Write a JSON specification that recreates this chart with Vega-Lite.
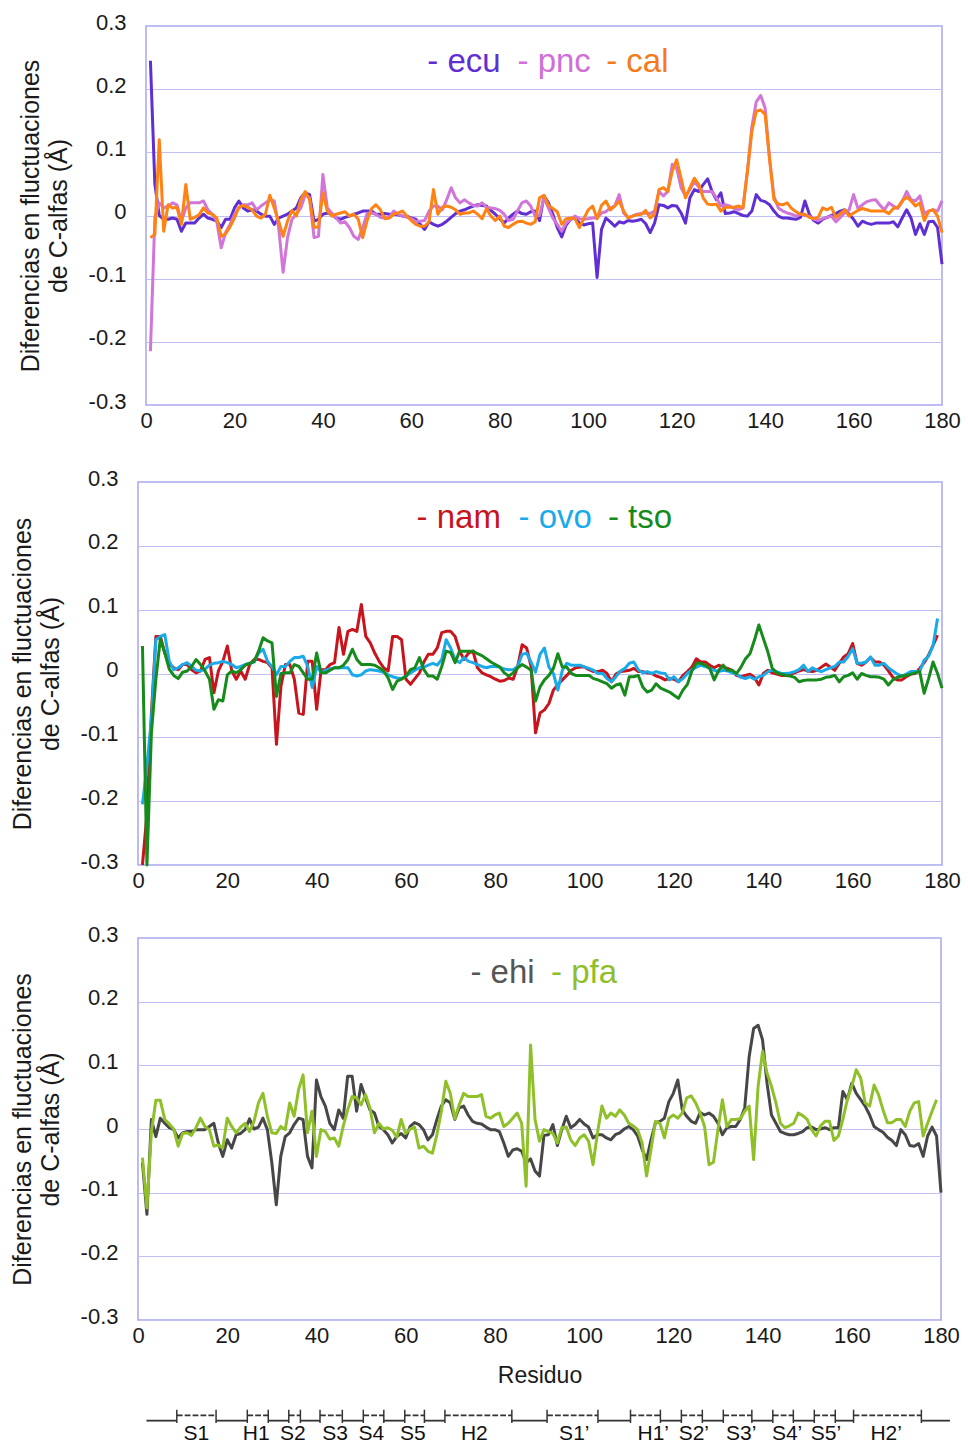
{
"$schema": "https://vega.github.io/schema/vega-lite/v6.json",
"background": "white",
"padding": {"left": 9, "top": 10, "right": 5, "bottom": 5},
"config": {
  "font": "Liberation Sans",
  "view": {"stroke": "#a7a7ee", "strokeWidth": 1.5},
  "axis": {"labelFont": "Liberation Sans", "titleFont": "Liberation Sans", "labelColor": "#1a1a1a", "titleColor": "#1a1a1a", "titleFontWeight": "normal", "domain": false, "ticks": false, "tickSize": 0},
  "axisX": {"grid": false, "labelFontSize": 22, "labelPadding": 5, "labelFlush": false, "titleFontSize": 23, "titlePadding": 18},
  "axisY": {"grid": true, "gridColor": "#c0c0f4", "gridWidth": 1, "labelFontSize": 22, "labelPadding": 20, "labelOffset": -4, "titleFontSize": 25, "titlePadding": 17, "titleLineHeight": 28}
},
"datasets": {
"p1": [
{"r":1,"ecu":0.245,"pnc":-0.215,"cal":-0.035},{"r":2,"ecu":0.05,"pnc":-0.004,"cal":-0.03},{"r":3,"ecu":0.0,"pnc":0.02,"cal":0.12},{"r":4,"ecu":-0.006,"pnc":0.012,"cal":-0.025},{"r":5,"ecu":-0.006,"pnc":0.015,"cal":0.017},{"r":6,"ecu":-0.004,"pnc":0.02,"cal":0.012},{"r":7,"ecu":-0.006,"pnc":0.017,"cal":0.013},{"r":8,"ecu":-0.025,"pnc":-0.009,"cal":-0.014},{"r":9,"ecu":-0.012,"pnc":0.012,"cal":0.049},{"r":10,"ecu":-0.012,"pnc":0.02,"cal":-0.006},
{"r":11,"ecu":-0.012,"pnc":0.02,"cal":-0.003},{"r":12,"ecu":-0.004,"pnc":0.02,"cal":0.001},{"r":13,"ecu":0.002,"pnc":0.023,"cal":0.012},{"r":14,"ecu":-0.004,"pnc":0.009,"cal":0.004},{"r":15,"ecu":-0.006,"pnc":0.002,"cal":0.002},{"r":16,"ecu":-0.009,"pnc":-0.009,"cal":-0.004},{"r":17,"ecu":-0.019,"pnc":-0.051,"cal":-0.033},{"r":18,"ecu":-0.006,"pnc":-0.027,"cal":-0.029},{"r":19,"ecu":-0.006,"pnc":-0.014,"cal":-0.018},{"r":20,"ecu":0.012,"pnc":0.002,"cal":-0.004},
{"r":21,"ecu":0.023,"pnc":0.012,"cal":0.013},{"r":22,"ecu":0.012,"pnc":0.017,"cal":0.016},{"r":23,"ecu":0.007,"pnc":0.017,"cal":0.013},{"r":24,"ecu":0.009,"pnc":0.02,"cal":0.009},{"r":25,"ecu":0.007,"pnc":0.009,"cal":-0.001},{"r":26,"ecu":0.002,"pnc":0.015,"cal":-0.004},{"r":27,"ecu":-0.001,"pnc":0.02,"cal":0.002},{"r":28,"ecu":-0.001,"pnc":0.025,"cal":0.032},{"r":29,"ecu":-0.014,"pnc":0.023,"cal":0.012},{"r":30,"ecu":-0.004,"pnc":-0.019,"cal":-0.009},
{"r":31,"ecu":-0.001,"pnc":-0.09,"cal":-0.033},{"r":32,"ecu":0.002,"pnc":-0.035,"cal":-0.009},{"r":33,"ecu":0.007,"pnc":-0.006,"cal":0.008},{"r":34,"ecu":0.012,"pnc":0.002,"cal":-0.001},{"r":35,"ecu":0.028,"pnc":0.012,"cal":0.025},{"r":36,"ecu":0.036,"pnc":0.033,"cal":0.038},{"r":37,"ecu":0.033,"pnc":0.028,"cal":0.025},{"r":38,"ecu":-0.009,"pnc":-0.035,"cal":-0.019},{"r":39,"ecu":-0.006,"pnc":-0.033,"cal":-0.018},{"r":40,"ecu":0.002,"pnc":0.065,"cal":0.036},
{"r":41,"ecu":0.004,"pnc":0.012,"cal":0.007},{"r":42,"ecu":0.002,"pnc":0.004,"cal":-0.001},{"r":43,"ecu":-0.004,"pnc":-0.004,"cal":0.002},{"r":44,"ecu":-0.006,"pnc":-0.012,"cal":0.004},{"r":45,"ecu":-0.003,"pnc":-0.01,"cal":0.006},{"r":46,"ecu":-0.001,"pnc":-0.019,"cal":-0.001},{"r":47,"ecu":0.002,"pnc":-0.033,"cal":0.002},{"r":48,"ecu":0.004,"pnc":-0.038,"cal":-0.006},{"r":49,"ecu":0.007,"pnc":-0.019,"cal":-0.035},{"r":50,"ecu":0.007,"pnc":0.003,"cal":-0.008},
{"r":51,"ecu":0.007,"pnc":0.004,"cal":0.011},{"r":52,"ecu":0.002,"pnc":0.002,"cal":0.017},{"r":53,"ecu":0.002,"pnc":-0.003,"cal":0.009},{"r":54,"ecu":0.003,"pnc":-0.004,"cal":-0.005},{"r":55,"ecu":0.002,"pnc":-0.003,"cal":-0.004},{"r":56,"ecu":0.002,"pnc":0.007,"cal":0.002},{"r":57,"ecu":0.001,"pnc":0.002,"cal":0.004},{"r":58,"ecu":-0.001,"pnc":-0.001,"cal":0.007},{"r":59,"ecu":-0.001,"pnc":-0.003,"cal":-0.001},{"r":60,"ecu":-0.004,"pnc":-0.005,"cal":-0.008},
{"r":61,"ecu":-0.006,"pnc":-0.009,"cal":-0.014},{"r":62,"ecu":-0.014,"pnc":-0.009,"cal":-0.017},{"r":63,"ecu":-0.022,"pnc":-0.008,"cal":-0.017},{"r":64,"ecu":-0.01,"pnc":0.007,"cal":-0.01},{"r":65,"ecu":-0.014,"pnc":0.015,"cal":0.041},{"r":66,"ecu":-0.017,"pnc":0.015,"cal":0.002},{"r":67,"ecu":-0.014,"pnc":0.009,"cal":0.013},{"r":68,"ecu":-0.009,"pnc":0.025,"cal":0.015},{"r":69,"ecu":-0.003,"pnc":0.044,"cal":0.013},{"r":70,"ecu":0.003,"pnc":0.028,"cal":0.009},
{"r":71,"ecu":0.007,"pnc":0.02,"cal":0.002},{"r":72,"ecu":0.009,"pnc":0.025,"cal":0.004},{"r":73,"ecu":0.012,"pnc":0.02,"cal":0.004},{"r":74,"ecu":0.015,"pnc":0.016,"cal":0.007},{"r":75,"ecu":0.017,"pnc":0.015,"cal":0.002},{"r":76,"ecu":0.016,"pnc":0.02,"cal":-0.005},{"r":77,"ecu":0.015,"pnc":0.013,"cal":0.011},{"r":78,"ecu":0.008,"pnc":0.012,"cal":-0.001},{"r":79,"ecu":0.002,"pnc":0.011,"cal":-0.008},{"r":80,"ecu":-0.005,"pnc":0.008,"cal":-0.001},
{"r":81,"ecu":-0.012,"pnc":0.002,"cal":-0.017},{"r":82,"ecu":-0.004,"pnc":-0.008,"cal":-0.019},{"r":83,"ecu":0.002,"pnc":-0.006,"cal":-0.014},{"r":84,"ecu":0.007,"pnc":0.007,"cal":-0.01},{"r":85,"ecu":0.003,"pnc":0.02,"cal":-0.009},{"r":86,"ecu":0.002,"pnc":0.023,"cal":-0.012},{"r":87,"ecu":0.006,"pnc":0.015,"cal":-0.014},{"r":88,"ecu":0.007,"pnc":-0.001,"cal":-0.01},{"r":89,"ecu":-0.008,"pnc":0.0,"cal":0.028},{"r":90,"ecu":0.031,"pnc":0.028,"cal":0.032},
{"r":91,"ecu":0.02,"pnc":0.012,"cal":0.016},{"r":92,"ecu":0.002,"pnc":-0.004,"cal":0.011},{"r":93,"ecu":-0.019,"pnc":-0.014,"cal":0.006},{"r":94,"ecu":-0.034,"pnc":-0.025,"cal":-0.014},{"r":95,"ecu":-0.015,"pnc":-0.012,"cal":-0.005},{"r":96,"ecu":-0.006,"pnc":-0.006,"cal":-0.004},{"r":97,"ecu":-0.004,"pnc":-0.001,"cal":-0.005},{"r":98,"ecu":-0.012,"pnc":-0.005,"cal":-0.019},{"r":99,"ecu":-0.015,"pnc":-0.006,"cal":-0.005},{"r":100,"ecu":-0.013,"pnc":-0.005,"cal":0.009},
{"r":101,"ecu":-0.012,"pnc":-0.004,"cal":0.015},{"r":102,"ecu":-0.098,"pnc":-0.004,"cal":-0.005},{"r":103,"ecu":-0.022,"pnc":0.004,"cal":0.016},{"r":104,"ecu":-0.004,"pnc":0.006,"cal":0.023},{"r":105,"ecu":-0.01,"pnc":0.012,"cal":0.009},{"r":106,"ecu":-0.017,"pnc":0.015,"cal":0.015},{"r":107,"ecu":-0.01,"pnc":0.033,"cal":0.023},{"r":108,"ecu":-0.012,"pnc":0.004,"cal":0.007},{"r":109,"ecu":-0.008,"pnc":-0.003,"cal":-0.004},{"r":110,"ecu":-0.009,"pnc":-0.001,"cal":-0.001},
{"r":111,"ecu":-0.008,"pnc":0.002,"cal":0.001},{"r":112,"ecu":-0.006,"pnc":0.003,"cal":0.002},{"r":113,"ecu":-0.013,"pnc":0.004,"cal":0.008},{"r":114,"ecu":-0.027,"pnc":0.003,"cal":-0.004},{"r":115,"ecu":-0.012,"pnc":0.007,"cal":0.002},{"r":116,"ecu":0.017,"pnc":0.038,"cal":0.041},{"r":117,"ecu":0.016,"pnc":0.031,"cal":0.044},{"r":118,"ecu":0.012,"pnc":0.038,"cal":0.038},{"r":119,"ecu":0.016,"pnc":0.081,"cal":0.07},{"r":120,"ecu":0.015,"pnc":0.075,"cal":0.088},
{"r":121,"ecu":0.004,"pnc":0.044,"cal":0.059},{"r":122,"ecu":-0.012,"pnc":0.031,"cal":0.028},{"r":123,"ecu":0.028,"pnc":0.041,"cal":0.044},{"r":124,"ecu":0.041,"pnc":0.054,"cal":0.059},{"r":125,"ecu":0.038,"pnc":0.045,"cal":0.049},{"r":126,"ecu":0.049,"pnc":0.038,"cal":0.028},{"r":127,"ecu":0.058,"pnc":0.038,"cal":0.018},{"r":128,"ecu":0.038,"pnc":0.038,"cal":0.017},{"r":129,"ecu":0.025,"pnc":0.028,"cal":0.018},{"r":130,"ecu":0.036,"pnc":0.015,"cal":0.007},
{"r":131,"ecu":0.003,"pnc":0.017,"cal":0.013},{"r":132,"ecu":0.004,"pnc":0.015,"cal":0.013},{"r":133,"ecu":0.006,"pnc":0.011,"cal":0.013},{"r":134,"ecu":0.003,"pnc":0.009,"cal":0.015},{"r":135,"ecu":0.0,"pnc":0.012,"cal":0.012},{"r":136,"ecu":-0.001,"pnc":0.07,"cal":0.07},{"r":137,"ecu":0.007,"pnc":0.14,"cal":0.133},{"r":138,"ecu":0.033,"pnc":0.18,"cal":0.165},{"r":139,"ecu":0.024,"pnc":0.19,"cal":0.167},{"r":140,"ecu":0.022,"pnc":0.17,"cal":0.16},
{"r":141,"ecu":0.017,"pnc":0.09,"cal":0.09},{"r":142,"ecu":0.007,"pnc":0.03,"cal":0.025},{"r":143,"ecu":-0.001,"pnc":0.012,"cal":0.018},{"r":144,"ecu":-0.004,"pnc":0.007,"cal":0.017},{"r":145,"ecu":-0.004,"pnc":0.004,"cal":0.02},{"r":146,"ecu":-0.005,"pnc":0.002,"cal":0.011},{"r":147,"ecu":-0.006,"pnc":-0.001,"cal":0.006},{"r":148,"ecu":-0.003,"pnc":0.002,"cal":0.002},{"r":149,"ecu":0.023,"pnc":0.0,"cal":0.002},{"r":150,"ecu":0.002,"pnc":-0.001,"cal":-0.003},
{"r":151,"ecu":-0.008,"pnc":-0.006,"cal":-0.005},{"r":152,"ecu":-0.012,"pnc":-0.008,"cal":-0.003},{"r":153,"ecu":-0.006,"pnc":-0.005,"cal":0.012},{"r":154,"ecu":-0.003,"pnc":-0.003,"cal":0.009},{"r":155,"ecu":0.0,"pnc":-0.001,"cal":0.013},{"r":156,"ecu":0.003,"pnc":-0.01,"cal":-0.003},{"r":157,"ecu":0.007,"pnc":-0.003,"cal":0.003},{"r":158,"ecu":0.009,"pnc":0.004,"cal":0.009},{"r":159,"ecu":0.002,"pnc":0.009,"cal":-0.001},{"r":160,"ecu":-0.006,"pnc":0.033,"cal":0.004},
{"r":161,"ecu":-0.017,"pnc":0.011,"cal":0.008},{"r":162,"ecu":-0.009,"pnc":0.017,"cal":0.011},{"r":163,"ecu":-0.012,"pnc":0.022,"cal":0.009},{"r":164,"ecu":-0.014,"pnc":0.024,"cal":0.007},{"r":165,"ecu":-0.012,"pnc":0.025,"cal":0.007},{"r":166,"ecu":-0.012,"pnc":0.016,"cal":0.007},{"r":167,"ecu":-0.012,"pnc":0.009,"cal":0.007},{"r":168,"ecu":-0.012,"pnc":0.02,"cal":0.003},{"r":169,"ecu":-0.01,"pnc":0.015,"cal":0.011},{"r":170,"ecu":-0.018,"pnc":0.011,"cal":0.013},
{"r":171,"ecu":-0.004,"pnc":0.022,"cal":0.023},{"r":172,"ecu":0.009,"pnc":0.038,"cal":0.029},{"r":173,"ecu":-0.004,"pnc":0.025,"cal":0.023},{"r":174,"ecu":-0.03,"pnc":0.023,"cal":0.015},{"r":175,"ecu":-0.013,"pnc":0.031,"cal":0.02},{"r":176,"ecu":-0.03,"pnc":0.003,"cal":-0.008},{"r":177,"ecu":-0.01,"pnc":0.007,"cal":0.007},{"r":178,"ecu":-0.009,"pnc":0.009,"cal":0.009},{"r":179,"ecu":-0.019,"pnc":0.007,"cal":-0.001},{"r":180,"ecu":-0.077,"pnc":0.023,"cal":-0.027}
],
"p2": [
{"r":1,"nam":-0.3,"ovo":-0.205,"tso":0.043},{"r":2,"nam":-0.22,"ovo":-0.145,"tso":-0.3},{"r":3,"nam":-0.062,"ovo":-0.072,"tso":-0.093},{"r":4,"nam":0.058,"ovo":0.053,"tso":-0.009},{"r":5,"nam":0.058,"ovo":0.058,"tso":0.054},{"r":6,"nam":0.032,"ovo":0.061,"tso":0.032},{"r":7,"nam":0.014,"ovo":0.019,"tso":0.007},{"r":8,"nam":0.009,"ovo":0.006,"tso":-0.003},{"r":9,"nam":0.006,"ovo":0.009,"tso":-0.008},{"r":10,"nam":0.014,"ovo":0.014,"tso":0.002},
{"r":11,"nam":0.014,"ovo":0.017,"tso":0.004},{"r":12,"nam":0.006,"ovo":0.011,"tso":0.011},{"r":13,"nam":0.001,"ovo":0.005,"tso":0.022},{"r":14,"nam":0.004,"ovo":0.004,"tso":0.014},{"r":15,"nam":0.022,"ovo":0.007,"tso":0.004},{"r":16,"nam":0.025,"ovo":0.013,"tso":-0.009},{"r":17,"nam":-0.03,"ovo":0.016,"tso":-0.056},{"r":18,"nam":0.004,"ovo":0.017,"tso":-0.041},{"r":19,"nam":0.019,"ovo":0.019,"tso":-0.043},{"r":20,"nam":0.043,"ovo":0.017,"tso":-0.002},
{"r":21,"nam":0.004,"ovo":0.014,"tso":0.004},{"r":22,"nam":-0.009,"ovo":0.009,"tso":0.001},{"r":23,"nam":0.004,"ovo":0.011,"tso":0.006},{"r":24,"nam":-0.009,"ovo":0.014,"tso":0.013},{"r":25,"nam":0.014,"ovo":0.016,"tso":0.016},{"r":26,"nam":0.022,"ovo":0.018,"tso":0.019},{"r":27,"nam":0.022,"ovo":0.032,"tso":0.035},{"r":28,"nam":0.019,"ovo":0.038,"tso":0.056},{"r":29,"nam":0.017,"ovo":0.019,"tso":0.051},{"r":30,"nam":0.009,"ovo":0.011,"tso":0.048},
{"r":31,"nam":-0.111,"ovo":-0.002,"tso":-0.036},{"r":32,"nam":-0.02,"ovo":0.011,"tso":0.0},{"r":33,"nam":0.014,"ovo":0.011,"tso":0.001},{"r":34,"nam":0.014,"ovo":0.019,"tso":0.001},{"r":35,"nam":-0.009,"ovo":0.025,"tso":0.014},{"r":36,"nam":-0.062,"ovo":0.025,"tso":0.011},{"r":37,"nam":-0.064,"ovo":0.027,"tso":0.001},{"r":38,"nam":0.019,"ovo":0.011,"tso":-0.009},{"r":39,"nam":0.019,"ovo":-0.022,"tso":-0.009},{"r":40,"nam":-0.056,"ovo":0.011,"tso":0.032},
{"r":41,"nam":0.006,"ovo":0.002,"tso":0.001},{"r":42,"nam":0.006,"ovo":0.005,"tso":0.001},{"r":43,"nam":0.014,"ovo":0.007,"tso":0.005},{"r":44,"nam":0.017,"ovo":0.009,"tso":0.009},{"r":45,"nam":0.072,"ovo":0.009,"tso":0.009},{"r":46,"nam":0.03,"ovo":0.009,"tso":0.013},{"r":47,"nam":0.066,"ovo":0.009,"tso":0.022},{"r":48,"nam":0.069,"ovo":-0.002,"tso":0.038},{"r":49,"nam":0.066,"ovo":-0.004,"tso":0.022},{"r":50,"nam":0.108,"ovo":-0.002,"tso":0.014},
{"r":51,"nam":0.058,"ovo":0.004,"tso":0.014},{"r":52,"nam":0.048,"ovo":0.006,"tso":0.014},{"r":53,"nam":0.032,"ovo":0.005,"tso":0.013},{"r":54,"nam":0.019,"ovo":0.004,"tso":0.009},{"r":55,"nam":0.009,"ovo":0.002,"tso":0.004},{"r":56,"nam":0.004,"ovo":-0.002,"tso":-0.007},{"r":57,"nam":0.058,"ovo":-0.005,"tso":-0.025},{"r":58,"nam":0.058,"ovo":-0.007,"tso":-0.012},{"r":59,"nam":0.053,"ovo":-0.008,"tso":-0.009},{"r":60,"nam":-0.009,"ovo":-0.004,"tso":-0.004},
{"r":61,"nam":-0.017,"ovo":0.001,"tso":0.006},{"r":62,"nam":-0.008,"ovo":0.005,"tso":0.009},{"r":63,"nam":0.001,"ovo":0.009,"tso":0.025},{"r":64,"nam":0.018,"ovo":0.01,"tso":0.006},{"r":65,"nam":0.03,"ovo":0.013,"tso":-0.004},{"r":66,"nam":0.03,"ovo":0.016,"tso":-0.004},{"r":67,"nam":0.04,"ovo":0.013,"tso":-0.009},{"r":68,"nam":0.064,"ovo":0.022,"tso":0.011},{"r":69,"nam":0.066,"ovo":0.053,"tso":0.035},{"r":70,"nam":0.066,"ovo":0.04,"tso":0.033},
{"r":71,"nam":0.058,"ovo":0.022,"tso":0.017},{"r":72,"nam":0.035,"ovo":0.017,"tso":0.035},{"r":73,"nam":0.022,"ovo":0.025,"tso":0.035},{"r":74,"nam":0.032,"ovo":0.019,"tso":0.035},{"r":75,"nam":0.035,"ovo":0.017,"tso":0.035},{"r":76,"nam":0.009,"ovo":0.014,"tso":0.031},{"r":77,"nam":0.001,"ovo":0.011,"tso":0.028},{"r":78,"nam":-0.002,"ovo":0.009,"tso":0.023},{"r":79,"nam":-0.005,"ovo":0.011,"tso":0.018},{"r":80,"nam":-0.009,"ovo":0.011,"tso":0.014},
{"r":81,"nam":-0.012,"ovo":0.01,"tso":0.01},{"r":82,"nam":-0.011,"ovo":0.007,"tso":0.001},{"r":83,"nam":-0.007,"ovo":0.006,"tso":-0.004},{"r":84,"nam":-0.009,"ovo":0.006,"tso":0.001},{"r":85,"nam":0.011,"ovo":0.011,"tso":0.009},{"r":86,"nam":0.045,"ovo":0.03,"tso":0.014},{"r":87,"nam":0.04,"ovo":0.032,"tso":0.01},{"r":88,"nam":0.011,"ovo":0.018,"tso":0.005},{"r":89,"nam":-0.093,"ovo":0.002,"tso":-0.043},{"r":90,"nam":-0.062,"ovo":0.03,"tso":-0.021},
{"r":91,"nam":-0.057,"ovo":0.04,"tso":-0.01},{"r":92,"nam":-0.047,"ovo":0.01,"tso":-0.003},{"r":93,"nam":-0.026,"ovo":0.0,"tso":0.008},{"r":94,"nam":-0.017,"ovo":-0.026,"tso":0.031},{"r":95,"nam":-0.01,"ovo":0.005,"tso":0.01},{"r":96,"nam":-0.003,"ovo":0.016,"tso":0.01},{"r":97,"nam":0.005,"ovo":0.013,"tso":0.0},{"r":98,"nam":0.009,"ovo":0.013,"tso":-0.003},{"r":99,"nam":0.01,"ovo":0.013,"tso":-0.003},{"r":100,"nam":0.01,"ovo":0.01,"tso":-0.003},
{"r":101,"nam":0.006,"ovo":0.008,"tso":-0.003},{"r":102,"nam":0.003,"ovo":0.005,"tso":-0.008},{"r":103,"nam":0.003,"ovo":0.0,"tso":-0.01},{"r":104,"nam":0.005,"ovo":0.0,"tso":-0.013},{"r":105,"nam":0.0,"ovo":-0.008,"tso":-0.016},{"r":106,"nam":-0.013,"ovo":-0.013,"tso":-0.023},{"r":107,"nam":-0.001,"ovo":-0.005,"tso":-0.018},{"r":108,"nam":0.003,"ovo":0.004,"tso":-0.016},{"r":109,"nam":0.004,"ovo":0.008,"tso":-0.034},{"r":110,"nam":0.005,"ovo":0.016,"tso":-0.005},
{"r":111,"nam":0.008,"ovo":0.018,"tso":-0.005},{"r":112,"nam":0.003,"ovo":0.006,"tso":-0.003},{"r":113,"nam":0.003,"ovo":0.001,"tso":-0.021},{"r":114,"nam":0.001,"ovo":0.003,"tso":-0.029},{"r":115,"nam":0.0,"ovo":0.0,"tso":-0.026},{"r":116,"nam":-0.004,"ovo":0.003,"tso":-0.016},{"r":117,"nam":-0.006,"ovo":0.001,"tso":-0.023},{"r":118,"nam":-0.01,"ovo":0.0,"tso":-0.026},{"r":119,"nam":-0.008,"ovo":-0.01,"tso":-0.029},{"r":120,"nam":-0.009,"ovo":-0.005,"tso":-0.034},
{"r":121,"nam":-0.013,"ovo":-0.013,"tso":-0.039},{"r":122,"nam":-0.003,"ovo":-0.008,"tso":-0.026},{"r":123,"nam":0.003,"ovo":0.0,"tso":-0.017},{"r":124,"nam":0.01,"ovo":0.006,"tso":0.004},{"r":125,"nam":0.023,"ovo":0.01,"tso":0.016},{"r":126,"nam":0.018,"ovo":0.013,"tso":0.016},{"r":127,"nam":0.018,"ovo":0.011,"tso":0.013},{"r":128,"nam":0.013,"ovo":0.008,"tso":0.008},{"r":129,"nam":0.009,"ovo":0.005,"tso":-0.01},{"r":130,"nam":0.013,"ovo":0.003,"tso":0.005},
{"r":131,"nam":0.01,"ovo":0.005,"tso":0.013},{"r":132,"nam":0.008,"ovo":0.004,"tso":0.005},{"r":133,"nam":0.005,"ovo":0.001,"tso":0.005},{"r":134,"nam":-0.003,"ovo":-0.001,"tso":0.0},{"r":135,"nam":-0.005,"ovo":-0.006,"tso":0.01},{"r":136,"nam":-0.003,"ovo":-0.008,"tso":0.023},{"r":137,"nam":-0.001,"ovo":-0.005,"tso":0.031},{"r":138,"nam":-0.006,"ovo":-0.009,"tso":0.052},{"r":139,"nam":-0.018,"ovo":-0.005,"tso":0.076},{"r":140,"nam":0.0,"ovo":-0.003,"tso":0.055},
{"r":141,"nam":0.005,"ovo":0.003,"tso":0.034},{"r":142,"nam":0.001,"ovo":0.005,"tso":0.008},{"r":143,"nam":-0.001,"ovo":0.003,"tso":0.001},{"r":144,"nam":-0.003,"ovo":0.0,"tso":-0.001},{"r":145,"nam":-0.003,"ovo":0.0,"tso":-0.003},{"r":146,"nam":-0.001,"ovo":0.001,"tso":-0.004},{"r":147,"nam":0.001,"ovo":0.003,"tso":-0.006},{"r":148,"nam":0.004,"ovo":0.006,"tso":-0.013},{"r":149,"nam":0.006,"ovo":0.013,"tso":-0.011},{"r":150,"nam":0.004,"ovo":0.003,"tso":-0.01},
{"r":151,"nam":0.003,"ovo":0.009,"tso":-0.01},{"r":152,"nam":0.005,"ovo":0.005,"tso":-0.01},{"r":153,"nam":0.01,"ovo":0.003,"tso":-0.009},{"r":154,"nam":0.015,"ovo":0.006,"tso":-0.006},{"r":155,"nam":0.01,"ovo":0.009,"tso":-0.005},{"r":156,"nam":0.005,"ovo":0.011,"tso":-0.003},{"r":157,"nam":0.016,"ovo":0.018,"tso":-0.013},{"r":158,"nam":0.026,"ovo":0.018,"tso":-0.005},{"r":159,"nam":0.031,"ovo":0.027,"tso":-0.003},{"r":160,"nam":0.047,"ovo":0.039,"tso":0.001},
{"r":161,"nam":0.016,"ovo":0.016,"tso":-0.009},{"r":162,"nam":0.013,"ovo":0.016,"tso":0.0},{"r":163,"nam":0.018,"ovo":0.018,"tso":-0.003},{"r":164,"nam":0.025,"ovo":0.026,"tso":-0.005},{"r":165,"nam":0.018,"ovo":0.013,"tso":-0.005},{"r":166,"nam":0.018,"ovo":0.013,"tso":-0.006},{"r":167,"nam":0.013,"ovo":0.016,"tso":-0.009},{"r":168,"nam":0.004,"ovo":0.009,"tso":-0.018},{"r":169,"nam":-0.006,"ovo":0.004,"tso":-0.01},{"r":170,"nam":-0.01,"ovo":-0.001,"tso":-0.006},
{"r":171,"nam":-0.01,"ovo":-0.004,"tso":-0.004},{"r":172,"nam":-0.005,"ovo":-0.001,"tso":-0.003},{"r":173,"nam":-0.001,"ovo":0.003,"tso":-0.001},{"r":174,"nam":0.0,"ovo":0.003,"tso":0.001},{"r":175,"nam":0.008,"ovo":0.003,"tso":0.003},{"r":176,"nam":0.017,"ovo":0.021,"tso":-0.031},{"r":177,"nam":0.029,"ovo":0.027,"tso":-0.008},{"r":178,"nam":0.044,"ovo":0.044,"tso":0.018},{"r":179,"nam":0.06,"ovo":0.086,"tso":0.0},{"r":180,"nam":null,"ovo":null,"tso":-0.023}
],
"p3": [
{"r":1,"ehi":-0.053,"pfa":-0.045},{"r":2,"ehi":-0.134,"pfa":-0.124},{"r":3,"ehi":0.015,"pfa":-0.005},{"r":4,"ehi":-0.012,"pfa":0.045},{"r":5,"ehi":0.017,"pfa":0.045},{"r":6,"ehi":0.009,"pfa":0.015},{"r":7,"ehi":0.002,"pfa":0.008},{"r":8,"ehi":-0.001,"pfa":0.0},{"r":9,"ehi":-0.014,"pfa":-0.027},{"r":10,"ehi":-0.006,"pfa":-0.007},
{"r":11,"ehi":-0.004,"pfa":-0.006},{"r":12,"ehi":-0.004,"pfa":-0.01},{"r":13,"ehi":-0.001,"pfa":0.002},{"r":14,"ehi":-0.001,"pfa":0.017},{"r":15,"ehi":-0.001,"pfa":0.004},{"r":16,"ehi":0.004,"pfa":-0.001},{"r":17,"ehi":0.009,"pfa":-0.027},{"r":18,"ehi":-0.022,"pfa":-0.025},{"r":19,"ehi":-0.043,"pfa":-0.03},{"r":20,"ehi":-0.017,"pfa":0.017},
{"r":21,"ehi":-0.03,"pfa":0.004},{"r":22,"ehi":-0.009,"pfa":-0.006},{"r":23,"ehi":-0.007,"pfa":0.003},{"r":24,"ehi":-0.001,"pfa":0.009},{"r":25,"ehi":0.016,"pfa":-0.004},{"r":26,"ehi":0.0,"pfa":0.012},{"r":27,"ehi":0.003,"pfa":0.041},{"r":28,"ehi":0.017,"pfa":0.056},{"r":29,"ehi":-0.001,"pfa":0.02},{"r":30,"ehi":-0.053,"pfa":-0.006},
{"r":31,"ehi":-0.119,"pfa":-0.007},{"r":32,"ehi":-0.043,"pfa":0.004},{"r":33,"ehi":-0.012,"pfa":-0.001},{"r":34,"ehi":-0.006,"pfa":0.041},{"r":35,"ehi":0.007,"pfa":0.02},{"r":36,"ehi":0.017,"pfa":0.062},{"r":37,"ehi":0.015,"pfa":0.085},{"r":38,"ehi":-0.043,"pfa":-0.006},{"r":39,"ehi":-0.061,"pfa":0.028},{"r":40,"ehi":0.077,"pfa":-0.043},
{"r":41,"ehi":0.051,"pfa":-0.001},{"r":42,"ehi":0.036,"pfa":-0.004},{"r":43,"ehi":0.009,"pfa":-0.016},{"r":44,"ehi":-0.001,"pfa":-0.014},{"r":45,"ehi":0.03,"pfa":-0.027},{"r":46,"ehi":0.017,"pfa":0.004},{"r":47,"ehi":0.083,"pfa":0.03},{"r":48,"ehi":0.083,"pfa":0.051},{"r":49,"ehi":0.028,"pfa":0.049},{"r":50,"ehi":0.07,"pfa":0.038},
{"r":51,"ehi":0.049,"pfa":0.054},{"r":52,"ehi":0.03,"pfa":0.033},{"r":53,"ehi":0.025,"pfa":-0.006},{"r":54,"ehi":0.004,"pfa":0.009},{"r":55,"ehi":-0.001,"pfa":0.0},{"r":56,"ehi":-0.009,"pfa":0.002},{"r":57,"ehi":-0.022,"pfa":-0.002},{"r":58,"ehi":-0.012,"pfa":-0.013},{"r":59,"ehi":-0.007,"pfa":0.015},{"r":60,"ehi":-0.014,"pfa":-0.007},
{"r":61,"ehi":0.004,"pfa":0.0},{"r":62,"ehi":0.01,"pfa":0.003},{"r":63,"ehi":0.007,"pfa":-0.03},{"r":64,"ehi":-0.001,"pfa":-0.027},{"r":65,"ehi":-0.017,"pfa":-0.035},{"r":66,"ehi":-0.009,"pfa":-0.038},{"r":67,"ehi":0.015,"pfa":-0.009},{"r":68,"ehi":0.036,"pfa":0.028},{"r":69,"ehi":0.046,"pfa":0.075},{"r":70,"ehi":0.041,"pfa":0.056},
{"r":71,"ehi":0.015,"pfa":0.016},{"r":72,"ehi":0.033,"pfa":0.038},{"r":73,"ehi":0.036,"pfa":0.056},{"r":74,"ehi":0.022,"pfa":0.051},{"r":75,"ehi":0.012,"pfa":0.051},{"r":76,"ehi":0.009,"pfa":0.051},{"r":77,"ehi":0.008,"pfa":0.054},{"r":78,"ehi":0.003,"pfa":0.02},{"r":79,"ehi":-0.001,"pfa":0.017},{"r":80,"ehi":-0.001,"pfa":0.022},
{"r":81,"ehi":-0.004,"pfa":0.025},{"r":82,"ehi":-0.022,"pfa":0.004},{"r":83,"ehi":-0.043,"pfa":0.009},{"r":84,"ehi":-0.033,"pfa":0.017},{"r":85,"ehi":-0.031,"pfa":0.025},{"r":86,"ehi":-0.035,"pfa":0.009},{"r":87,"ehi":-0.053,"pfa":-0.09},{"r":88,"ehi":-0.047,"pfa":0.132},{"r":89,"ehi":-0.066,"pfa":0.015},{"r":90,"ehi":-0.074,"pfa":-0.019},
{"r":91,"ehi":-0.01,"pfa":-0.001},{"r":92,"ehi":-0.009,"pfa":-0.004},{"r":93,"ehi":0.007,"pfa":-0.007},{"r":94,"ehi":-0.026,"pfa":-0.022},{"r":95,"ehi":-0.001,"pfa":0.002},{"r":96,"ehi":0.02,"pfa":0.003},{"r":97,"ehi":0.002,"pfa":-0.017},{"r":98,"ehi":0.007,"pfa":-0.026},{"r":99,"ehi":0.015,"pfa":-0.014},{"r":100,"ehi":0.008,"pfa":-0.009},
{"r":101,"ehi":0.003,"pfa":-0.019},{"r":102,"ehi":-0.014,"pfa":-0.056},{"r":103,"ehi":-0.009,"pfa":-0.006},{"r":104,"ehi":-0.009,"pfa":0.036},{"r":105,"ehi":-0.014,"pfa":0.017},{"r":106,"ehi":-0.017,"pfa":0.025},{"r":107,"ehi":-0.009,"pfa":0.02},{"r":108,"ehi":-0.006,"pfa":0.03},{"r":109,"ehi":0.0,"pfa":0.022},{"r":110,"ehi":0.004,"pfa":0.009},
{"r":111,"ehi":-0.001,"pfa":0.005},{"r":112,"ehi":-0.011,"pfa":-0.001},{"r":113,"ehi":-0.032,"pfa":-0.022},{"r":114,"ehi":-0.048,"pfa":-0.074},{"r":115,"ehi":-0.017,"pfa":-0.032},{"r":116,"ehi":0.01,"pfa":0.012},{"r":117,"ehi":0.012,"pfa":0.009},{"r":118,"ehi":0.017,"pfa":-0.014},{"r":119,"ehi":0.043,"pfa":0.017},{"r":120,"ehi":0.056,"pfa":0.022},
{"r":121,"ehi":0.077,"pfa":0.017},{"r":122,"ehi":0.03,"pfa":0.025},{"r":123,"ehi":0.02,"pfa":0.049},{"r":124,"ehi":0.012,"pfa":0.052},{"r":125,"ehi":0.009,"pfa":0.041},{"r":126,"ehi":0.026,"pfa":0.025},{"r":127,"ehi":0.022,"pfa":0.004},{"r":128,"ehi":0.025,"pfa":-0.056},{"r":129,"ehi":0.02,"pfa":-0.052},{"r":130,"ehi":0.009,"pfa":-0.001},
{"r":131,"ehi":-0.009,"pfa":0.046},{"r":132,"ehi":0.002,"pfa":0.004},{"r":133,"ehi":0.004,"pfa":0.015},{"r":134,"ehi":0.004,"pfa":0.015},{"r":135,"ehi":0.015,"pfa":0.016},{"r":136,"ehi":0.033,"pfa":0.028},{"r":137,"ehi":0.114,"pfa":0.036},{"r":138,"ehi":0.158,"pfa":-0.048},{"r":139,"ehi":0.163,"pfa":0.067},{"r":140,"ehi":0.14,"pfa":0.122},
{"r":141,"ehi":0.072,"pfa":0.088},{"r":142,"ehi":0.022,"pfa":0.067},{"r":143,"ehi":0.009,"pfa":0.041},{"r":144,"ehi":-0.004,"pfa":0.009},{"r":145,"ehi":-0.007,"pfa":0.002},{"r":146,"ehi":-0.009,"pfa":0.005},{"r":147,"ehi":-0.009,"pfa":0.009},{"r":148,"ehi":-0.007,"pfa":0.025},{"r":149,"ehi":-0.004,"pfa":0.021},{"r":150,"ehi":0.002,"pfa":0.015},
{"r":151,"ehi":0.003,"pfa":-0.001},{"r":152,"ehi":-0.001,"pfa":-0.011},{"r":153,"ehi":0.0,"pfa":0.005},{"r":154,"ehi":0.002,"pfa":0.012},{"r":155,"ehi":-0.001,"pfa":0.012},{"r":156,"ehi":0.002,"pfa":-0.018},{"r":157,"ehi":0.002,"pfa":-0.011},{"r":158,"ehi":0.059,"pfa":0.015},{"r":159,"ehi":0.046,"pfa":0.046},{"r":160,"ehi":0.072,"pfa":0.067},
{"r":161,"ehi":0.056,"pfa":0.093},{"r":162,"ehi":0.046,"pfa":0.08},{"r":163,"ehi":0.036,"pfa":0.041},{"r":164,"ehi":0.022,"pfa":0.036},{"r":165,"ehi":0.004,"pfa":0.069},{"r":166,"ehi":-0.001,"pfa":0.054},{"r":167,"ehi":-0.005,"pfa":0.03},{"r":168,"ehi":-0.013,"pfa":0.01},{"r":169,"ehi":-0.018,"pfa":0.01},{"r":170,"ehi":-0.026,"pfa":0.015},
{"r":171,"ehi":-0.001,"pfa":0.015},{"r":172,"ehi":-0.009,"pfa":0.004},{"r":173,"ehi":-0.026,"pfa":0.028},{"r":174,"ehi":-0.027,"pfa":0.041},{"r":175,"ehi":-0.023,"pfa":0.043},{"r":176,"ehi":-0.043,"pfa":-0.011},{"r":177,"ehi":-0.011,"pfa":0.009},{"r":178,"ehi":0.003,"pfa":0.028},{"r":179,"ehi":-0.011,"pfa":0.046},{"r":180,"ehi":-0.1,"pfa":null}
],
"estructura": [
{"nombre":"S1","inicio":8.7,"fin":17.5,"centro":13.1},
{"nombre":"H1","inicio":24.5,"fin":29.2,"centro":26.5},
{"nombre":"S2","inicio":33.8,"fin":36.4,"centro":34.7},
{"nombre":"S3","inicio":40.8,"fin":45.8,"centro":44.2},
{"nombre":"S4","inicio":50.5,"fin":55.1,"centro":52.3},
{"nombre":"S5","inicio":59.8,"fin":64.2,"centro":61.6},
{"nombre":"H2","inicio":68.8,"fin":83.8,"centro":75.4},
{"nombre":"S1’","inicio":91.7,"fin":103.1,"centro":97.8},
{"nombre":"H1’","inicio":110.4,"fin":117.1,"centro":115.5},
{"nombre":"S2’","inicio":121.8,"fin":126.5,"centro":124.6},
{"nombre":"S3’","inicio":131.2,"fin":137.6,"centro":135.2},
{"nombre":"S4’","inicio":142.3,"fin":146.9,"centro":145.5},
{"nombre":"S5’","inicio":151.6,"fin":156.3,"centro":154.2},
{"nombre":"H2’","inicio":160.4,"fin":175.6,"centro":167.7}
],
"lazos": [
{"inicio":1.9,"fin":8.7},{"inicio":17.5,"fin":24.5},{"inicio":29.2,"fin":33.8},{"inicio":36.4,"fin":40.8},{"inicio":45.8,"fin":50.5},{"inicio":55.1,"fin":59.8},{"inicio":64.2,"fin":68.8},{"inicio":83.8,"fin":91.7},{"inicio":103.1,"fin":110.4},{"inicio":117.1,"fin":121.8},{"inicio":126.5,"fin":131.2},{"inicio":137.6,"fin":142.3},{"inicio":146.9,"fin":151.6},{"inicio":156.3,"fin":160.4},{"inicio":175.6,"fin":182.0}
]
},
"spacing": 34,
"vconcat": [
{
 "spacing": -122,
 "hconcat": [
  {"width": 1, "height": 1, "data": {"values": []}, "mark": "rect", "view": {"stroke": null, "fill": "white"}},
  {
   "width": 796, "height": 379,
   "layer": [
    {
     "data": {"name": "p1"},
     "transform": [{"fold": ["ecu", "pnc", "cal"], "as": ["serie", "valor"]}],
     "mark": {"type": "line", "strokeWidth": 3, "strokeJoin": "round"},
     "encoding": {
      "x": {"field": "r", "type": "quantitative", "scale": {"domain": [0, 180], "nice": false}, "axis": {"values": [0,20,40,60,80,100,120,140,160,180], "title": null}},
      "y": {"field": "valor", "type": "quantitative", "scale": {"domain": [-0.3, 0.3], "nice": false}, "axis": {"values": [-0.3,-0.2,-0.1,0,0.1,0.2,0.3], "labelExpr": "datum.value == 0 ? '0' : (datum.value < 0 ? '-' : '') + format(abs(datum.value), '.1f')", "title": ["Diferencias en fluctuaciones", "de C-alfas  (Å)"]}},
      "color": {"field": "serie", "type": "nominal", "scale": {"domain": ["ecu", "pnc", "cal", "nam", "ovo", "tso", "ehi", "pfa"], "range": ["#5f2fd4", "#d275d8", "#ff8214", "#c8141c", "#1aaaea", "#178a1c", "#474747", "#8fc02a"]}, "legend": null}
     }
    },
    {"data": {"values": [{"t": "- ecu"}]}, "mark": {"type": "text", "fontSize": 33, "color": "#5f2fd4", "align": "center", "baseline": "alphabetic"}, "encoding": {"x": {"datum": 71.9}, "y": {"datum": 0.2275}, "text": {"field": "t"}}},
    {"data": {"values": [{"t": "- pnc"}]}, "mark": {"type": "text", "fontSize": 33, "color": "#d06fd8", "align": "center", "baseline": "alphabetic"}, "encoding": {"x": {"datum": 92.3}, "y": {"datum": 0.2275}, "text": {"field": "t"}}},
    {"data": {"values": [{"t": "- cal"}]}, "mark": {"type": "text", "fontSize": 33, "color": "#f47a1a", "align": "center", "baseline": "alphabetic"}, "encoding": {"x": {"datum": 111.1}, "y": {"datum": 0.2275}, "text": {"field": "t"}}}
   ]
  }
 ]
},
{
 "spacing": 30,
 "vconcat": [
  {
   "width": 804, "height": 383,
   "layer": [
    {
     "data": {"name": "p2"},
     "transform": [{"fold": ["nam", "ovo", "tso"], "as": ["serie", "valor"]}],
     "mark": {"type": "line", "strokeWidth": 3, "strokeJoin": "round"},
     "encoding": {
      "x": {"field": "r", "type": "quantitative", "scale": {"domain": [0, 180], "nice": false}, "axis": {"values": [0,20,40,60,80,100,120,140,160,180], "title": null}},
      "y": {"field": "valor", "type": "quantitative", "scale": {"domain": [-0.3, 0.3], "nice": false}, "axis": {"values": [-0.3,-0.2,-0.1,0,0.1,0.2,0.3], "labelExpr": "datum.value == 0 ? '0' : (datum.value < 0 ? '-' : '') + format(abs(datum.value), '.1f')", "title": ["Diferencias en fluctuaciones", "de C-alfas  (Å)"]}},
      "color": {"field": "serie", "type": "nominal", "scale": {"domain": ["ecu", "pnc", "cal", "nam", "ovo", "tso", "ehi", "pfa"], "range": ["#5f2fd4", "#d275d8", "#ff8214", "#c8141c", "#1aaaea", "#178a1c", "#474747", "#8fc02a"]}, "legend": null}
     }
    },
    {"data": {"values": [{"t": "- nam"}]}, "mark": {"type": "text", "fontSize": 33, "color": "#c8141c", "align": "center", "baseline": "alphabetic"}, "encoding": {"x": {"datum": 71.8}, "y": {"datum": 0.228}, "text": {"field": "t"}}},
    {"data": {"values": [{"t": "- ovo"}]}, "mark": {"type": "text", "fontSize": 33, "color": "#1aaaea", "align": "center", "baseline": "alphabetic"}, "encoding": {"x": {"datum": 93.4}, "y": {"datum": 0.228}, "text": {"field": "t"}}},
    {"data": {"values": [{"t": "- tso"}]}, "mark": {"type": "text", "fontSize": 33, "color": "#178a1c", "align": "center", "baseline": "alphabetic"}, "encoding": {"x": {"datum": 112.4}, "y": {"datum": 0.228}, "text": {"field": "t"}}}
   ]
  },
  {
   "width": 803, "height": 382,
   "layer": [
    {
     "data": {"name": "p3"},
     "transform": [{"fold": ["ehi", "pfa"], "as": ["serie", "valor"]}],
     "mark": {"type": "line", "strokeWidth": 3, "strokeJoin": "round"},
     "encoding": {
      "x": {"field": "r", "type": "quantitative", "scale": {"domain": [0, 180], "nice": false}, "axis": {"values": [0,20,40,60,80,100,120,140,160,180], "title": "Residuo"}},
      "y": {"field": "valor", "type": "quantitative", "scale": {"domain": [-0.3, 0.3], "nice": false}, "axis": {"values": [-0.3,-0.2,-0.1,0,0.1,0.2,0.3], "labelExpr": "datum.value == 0 ? '0' : (datum.value < 0 ? '-' : '') + format(abs(datum.value), '.1f')", "title": ["Diferencias en fluctuaciones", "de C-alfas  (Å)"]}},
      "color": {"field": "serie", "type": "nominal", "scale": {"domain": ["ecu", "pnc", "cal", "nam", "ovo", "tso", "ehi", "pfa"], "range": ["#5f2fd4", "#d275d8", "#ff8214", "#c8141c", "#1aaaea", "#178a1c", "#474747", "#8fc02a"]}, "legend": null}
     }
    },
    {"data": {"values": [{"t": "- ehi"}]}, "mark": {"type": "text", "fontSize": 33, "color": "#555555", "align": "center", "baseline": "alphabetic"}, "encoding": {"x": {"datum": 81.7}, "y": {"datum": 0.2295}, "text": {"field": "t"}}},
    {"data": {"values": [{"t": "- pfa"}]}, "mark": {"type": "text", "fontSize": 33, "color": "#8fbe2a", "align": "center", "baseline": "alphabetic"}, "encoding": {"x": {"datum": 100.0}, "y": {"datum": 0.2295}, "text": {"field": "t"}}},
    {"data": {"name": "lazos"}, "mark": {"type": "rule", "color": "#333333", "strokeWidth": 1.8}, "encoding": {"x": {"field": "inicio", "type": "quantitative"}, "x2": {"field": "fin"}, "y": {"datum": -0.4581}}},
    {"data": {"name": "estructura"}, "mark": {"type": "rule", "color": "#333333", "strokeWidth": 1.8, "strokeDash": [5.8, 2.1]}, "encoding": {"x": {"field": "inicio", "type": "quantitative"}, "x2": {"field": "fin"}, "y": {"datum": -0.4498}}},
    {"data": {"name": "estructura"}, "mark": {"type": "rule", "color": "#333333", "strokeWidth": 1.5}, "encoding": {"x": {"field": "inicio", "type": "quantitative"}, "y": {"datum": -0.4409}, "y2": {"datum": -0.4618}}},
    {"data": {"name": "estructura"}, "mark": {"type": "rule", "color": "#333333", "strokeWidth": 1.5}, "encoding": {"x": {"field": "fin", "type": "quantitative"}, "y": {"datum": -0.4409}, "y2": {"datum": -0.4618}}},
    {"data": {"name": "estructura"}, "mark": {"type": "text", "fontSize": 21, "color": "#111111", "align": "center", "baseline": "alphabetic"}, "encoding": {"x": {"field": "centro", "type": "quantitative"}, "y": {"datum": -0.488}, "text": {"field": "nombre"}}}
   ]
  }
 ]
}
]
}
